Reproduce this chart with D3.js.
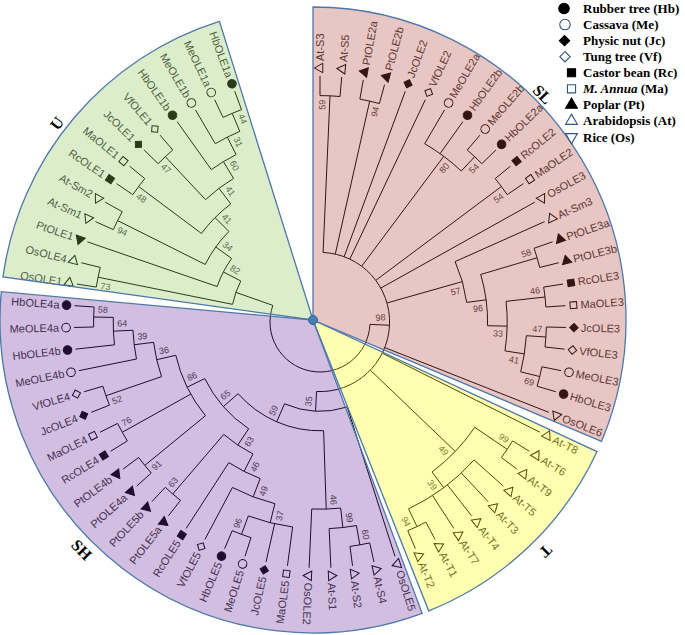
<!DOCTYPE html>
<html><head><meta charset="utf-8">
<script src="https://cdn.jsdelivr.net/npm/d3@7"></script>
<style>body{margin:0;background:#fff}svg{display:block}</style>
</head><body>
<svg id="chart" width="685" height="635"></svg>
<script>
// ---------------- data ----------------
// tree topology (Newick, children in clockwise order, internal labels = bootstrap support)
const slMembers = "(At-S3,At-S5)59,(PtOLE2a,PtOLE2b)94,JcOLE2,VfOLE2,(MeOLE2a,HbOLE2b,(MeOLE2b,HbOLE2a)54)80,(RcOLE2,MaOLE2)54,OsOLE3,(At-Sm3,((PtOLE3a,PtOLE3b)58,((RcOLE3,MaOLE3)46,((JcOLE3,VfOLE3)47,(MeOLE3,HbOLE3)69)41)33)96)57,OsOLE6";
const tMembers = "At-T8,((At-T6,At-T9)99,(At-T5,At-T3,At-T4,At-T7,(At-T1,At-T2)94)39)49";
const shClade = "(OsOLE5,((((At-S4,At-S2)60,At-S1)99,OsOLE2)46,(((((MaOLE5,JcOLE5,(MeOLE5,HbOLE5)96)37,VfOLE5)49,RcOLE5)46,(PtOLE5a,PtOLE5b)63)63,((PtOLE4a,PtOLE4b)91,(RcOLE4,MaOLE4)76,((JcOLE4,VfOLE4)52,(MeOLE4b,(HbOLE4b,(MeOLE4a,HbOLE4a)58)64)39)36)86)65)59)35";
const uClade = "((OsOLE1,OsOLE4)73,(PtOLE1,((At-Sm1,At-Sm2)94,((RcOLE1,MaOLE1)48,((JcOLE1,VfOLE1)47,(HbOLE1b,(MeOLE1b,(MeOLE1a,HbOLE1a)44)31)60)41)41)34)82)";
const rootSupport = "98";

const groupNames = ["SL", "T", "SH", "U"];
const legendCodes = ["Hb", "Me", "Jc", "Vf", "Rc", "Ma", "Pt", "At", "Os"];
const legendNames = ["Rubber tree", "Cassava", "Physic nut", "Tung tree", "Castor bean", "M. Annua", "Poplar", "Arabidopsis", "Rice"];
const leafSlots = 71; // 68 leaves + gap of 3 slots

// ---------------- parse ----------------
function parseNewick(s) {
  let i = 0;
  function node() {
    const n = {};
    if (s[i] === "(") {
      i++;
      n.children = [];
      while (true) {
        n.children.push(node());
        if (s[i] === ",") { i++; continue; }
        break;
      }
      i++; // ')'
    }
    let name = "";
    while (i < s.length && !",();".includes(s[i])) name += s[i++];
    if (n.children) n.support = name; else n.name = name;
    return n;
  }
  return node();
}
const newick = "((" + slMembers + "," + tMembers + "," + shClade + ")" + rootSupport + "," + uClade + ");";
const root = d3.hierarchy(parseNewick(newick));

// ---------------- layout ----------------
const svg = d3.select("#chart");
const cx = 320, cy = 322;
const deg = Math.PI / 180;
const angleScale = d3.scaleLinear().domain([0, leafSlots]).range([-90, 270]);
const rScale = d3.scaleLinear().domain([root.height, 0]).range([50, 246]);
const leaves = root.leaves();
leaves.forEach((d, i) => { d.theta = angleScale(i); });
root.eachAfter(d => {
  d.r = rScale(d.height);
  if (d.children) {
    d.theta = (d.children[0].theta + d.children[d.children.length - 1].theta) / 2;
  }
});
const pol = (r, t) => [cx + r * Math.cos(t * deg), cy + r * Math.sin(t * deg)];

const gTree = svg.append("g");

// branches
const p = d3.path();
root.descendants().forEach(d => {
  if (d.parent) {
    const a = pol(d.parent.r, d.theta), b = pol(d.r, d.theta);
    p.moveTo(a[0], a[1]); p.lineTo(b[0], b[1]);
  }
  if (d.children) {
    const t0 = d.children[0].theta, t1 = d.children[d.children.length - 1].theta;
    const a = pol(d.r, t0);
    p.moveTo(a[0], a[1]);
    p.arc(cx, cy, d.r, t0 * deg, t1 * deg, false);
  }
});
gTree.append("path").attr("d", p.toString()).attr("fill", "none")
  .attr("stroke", "#000").attr("stroke-width", 1);

// symbols
const speciesOf = n => n.startsWith("At-") ? "At" : n.slice(0, 2);
const symStyle = {
  Hb: { type: d3.symbolCircle, size: 58, fill: true, rot: 0 },
  Me: { type: d3.symbolCircle, size: 58, fill: false, rot: 0 },
  Jc: { type: d3.symbolSquare, size: 36, fill: true, rot: 45 },
  Vf: { type: d3.symbolSquare, size: 36, fill: false, rot: 45 },
  Rc: { type: d3.symbolSquare, size: 44, fill: true, rot: 0 },
  Ma: { type: d3.symbolSquare, size: 44, fill: false, rot: 0 },
  Pt: { type: d3.symbolTriangle, size: 40, fill: true, rot: 0 },
  At: { type: d3.symbolTriangle, size: 40, fill: false, rot: 0 },
  Os: { type: d3.symbolTriangle, size: 40, fill: false, rot: 180 }
};
leaves.forEach(d => {
  const st = symStyle[speciesOf(d.data.name)];
  const [x, y] = pol(254, d.theta);
  gTree.append("path")
    .attr("d", d3.symbol().type(st.type).size(st.size)())
    .attr("transform", `translate(${x},${y}) rotate(${d.theta + st.rot})`)
    .attr("fill", st.fill ? "#000" : "#fff")
    .attr("stroke", "#000").attr("stroke-width", 1);
});
const isFlipped = t => { const a = ((t % 360) + 360) % 360; return a >= 95 && a < 270; };

// leaf labels
leaves.forEach(d => {
  const flip = isFlipped(d.theta);
  gTree.append("text")
    .attr("transform", `translate(${cx},${cy}) rotate(${d.theta}) translate(261,0)` + (flip ? " rotate(180)" : ""))
    .attr("text-anchor", flip ? "end" : "start")
    .attr("dy", "0.35em")
    .attr("font-family", "Liberation Sans, Arial, sans-serif")
    .attr("font-size", 11)
    .attr("fill", "#333")
    .text(d.data.name);
});

// bootstrap labels
root.descendants().forEach(d => {
  if (!d.children || !d.data.support) return;
  const side = (d.parent && d.parent.children[0] === d) ? -1 : 1;
  const r = d.r - 9;
  const t = d.theta + side * (7.5 / r) / deg;
  const flip = isFlipped(t);
  gTree.append("text")
    .attr("transform", `translate(${cx},${cy}) rotate(${t}) translate(${r},0)` + (flip ? " rotate(180)" : ""))
    .attr("text-anchor", "middle")
    .attr("dy", "0.35em")
    .attr("font-family", "Liberation Sans, Arial, sans-serif")
    .attr("font-size", 9)
    .attr("fill", "#444")
    .text(d.data.support);
});

// ---------------- sector overlays ----------------
const ax = 313, ay = 320, R = 313;
const sectors = [
  { name: groupNames[0], a0: -90, a1: 22.8, color: "rgb(178,66,60)", lab: [-44.5, 322], rot: 45.5 },
  { name: groupNames[1], a0: 24.85, a1: 68.3, color: "rgb(255,255,0)", lab: [44.8, 328], rot: 134.8 },
  { name: groupNames[2], a0: 69.6, a1: 185.2, color: "rgb(105,40,152)", lab: [135.2, 326], rot: 45.2 },
  { name: groupNames[3], a0: 187.9, a1: 252.6, color: "rgb(140,195,85)", lab: [217.5, 323], rot: -52.5 }
];
const arcGen = d3.arc().innerRadius(0).outerRadius(R);
const gSec = svg.append("g").attr("transform", `translate(${ax},${ay})`);
sectors.forEach(s => {
  const dPath = arcGen({ startAngle: (s.a0 + 90) * deg, endAngle: (s.a1 + 90) * deg });
  gSec.append("path").attr("d", dPath).attr("fill", s.color).attr("fill-opacity", 0.3);
  gSec.append("path").attr("d", dPath).attr("fill", "none")
    .attr("stroke", "#4d79a8").attr("stroke-width", 1.3);
  const [lx, ly] = [s.lab[1] * Math.cos(s.lab[0] * deg), s.lab[1] * Math.sin(s.lab[0] * deg)];
  gSec.append("text")
    .attr("transform", `translate(${lx},${ly}) rotate(${s.rot})`)
    .attr("text-anchor", "middle").attr("dy", "0.35em")
    .attr("font-family", "Liberation Serif, Times New Roman, serif")
    .attr("font-weight", "bold").attr("font-size", 16)
    .attr("fill", "#000").text(s.name);
});
gSec.append("circle").attr("r", 4.5).attr("fill", "#4a7db5").attr("stroke", "#2f5f93").attr("stroke-width", 1);

// ---------------- legend ----------------
const gLeg = svg.append("g");
const legY = d3.scaleLinear().domain([0, 8]).range([8.5, 137]);
const legSymX = [564, 565, 564.5, 565, 571.5, 571.5, 571.5, 571.5, 571.5];
legendCodes.forEach((c, i) => {
  const st = symStyle[c];
  const y = legY(i);
  gLeg.append("path")
    .attr("d", d3.symbol().type(st.type).size(st.size * 1.5)())
    .attr("transform", `translate(${legSymX[i]},${y}) rotate(${st.rot})`)
    .attr("fill", st.fill ? "#000" : "#fff")
    .attr("stroke", st.fill ? "#000" : "#2f5384").attr("stroke-width", 1.1);
  const tx = gLeg.append("text").attr("x", 583).attr("y", y).attr("dy", "0.35em")
    .attr("font-family", "Liberation Serif, Times New Roman, serif")
    .attr("font-weight", "bold").attr("font-size", 13).attr("fill", "#000");
  if (c === "Ma") {
    tx.append("tspan").attr("font-style", "italic").text(legendNames[i]);
    tx.append("tspan").text(` (${c})`);
  } else {
    tx.text(`${legendNames[i]} (${c})`);
  }
});
</script>
</body></html>
